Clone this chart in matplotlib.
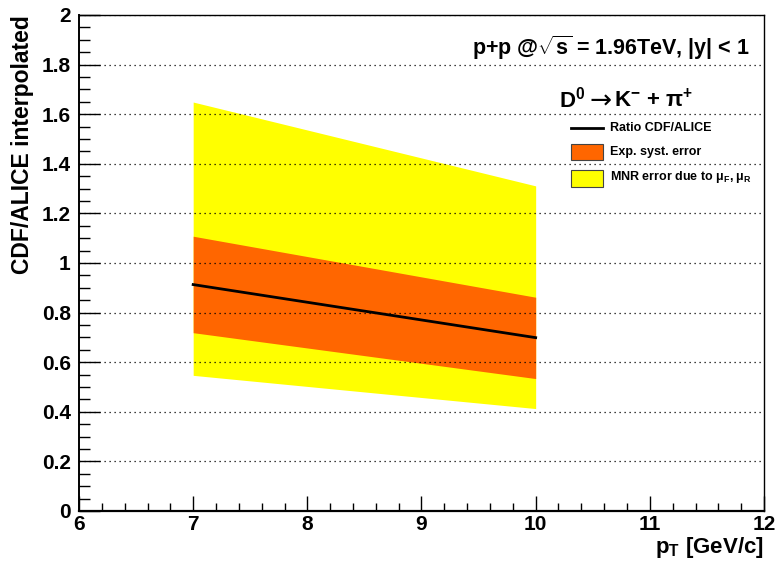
import matplotlib
matplotlib.use('Agg')
import matplotlib.pyplot as plt
from matplotlib.patches import Rectangle
from matplotlib.lines import Line2D
import numpy as np

plt.rcParams['font.family'] = ['Liberation Sans', 'DejaVu Sans']
plt.rcParams['font.weight'] = 'bold'
plt.rcParams['mathtext.fontset'] = 'custom'
plt.rcParams['mathtext.rm'] = 'Liberation Sans:bold'
plt.rcParams['mathtext.bf'] = 'Liberation Sans:bold'
plt.rcParams['mathtext.it'] = 'Liberation Sans:italic:bold'

# pT points and bands
pt = [7, 10]
ratio = [0.913, 0.699]
exp_hi = [1.108, 0.862]
exp_lo = [0.719, 0.534]
mnr_hi = [1.649, 1.311]
mnr_lo = [0.547, 0.413]

xticks = [6, 7, 8, 9, 10, 11, 12]
yticks = [0, 0.2, 0.4, 0.6, 0.8, 1, 1.2, 1.4, 1.6, 1.8, 2]
ylabels = ['0', '0.2', '0.4', '0.6', '0.8', '1', '1.2', '1.4', '1.6', '1.8', '2']

yellow = '#ffff00'
orange = '#ff6600'

fig = plt.figure(figsize=(7.79, 5.67), dpi=100)
ax = fig.add_axes([79/779, 1 - 511/567, 685/779, 496/567])

ax.fill_between(pt, mnr_lo, mnr_hi, color=yellow, linewidth=0, zorder=1)
ax.fill_between(pt, exp_lo, exp_hi, color=orange, linewidth=0, zorder=1.2)
ax.plot(pt, ratio, color='black', lw=2, zorder=1.5)

ax.set_xlim(6, 12)
ax.set_ylim(0, 2)
ax.set_xticks(xticks)
ax.set_xticks(np.arange(6, 12.01, 0.2), minor=True)
ax.set_yticks(yticks)
ax.set_yticks(np.arange(0, 2.01, 0.05), minor=True)
ax.set_xticklabels([str(v) for v in xticks], fontsize=15, fontweight='bold')
ax.set_yticklabels(ylabels, fontsize=15, fontweight='bold')

ax.tick_params(axis='both', which='both', direction='in', top=False, right=False,
               width=1)
ax.tick_params(axis='y', which='major', length=15, pad=6)
ax.tick_params(axis='y', which='minor', length=8)
ax.tick_params(axis='x', which='major', length=11, pad=3)
ax.tick_params(axis='x', which='minor', length=6)

ax.set_axisbelow(False)
ax.yaxis.grid(True, which='major', color='black', linestyle=(0, (1, 3)), linewidth=0.9)
for s in ax.spines.values():
    s.set_linewidth(1.0)
ax.spines['bottom'].set_linewidth(1.6)
ax.spines['left'].set_linewidth(1.4)

fig.text(23/779, 1 - 15/567, 'CDF/ALICE interpolated', rotation=90,
         ha='center', va='top', fontsize=16.5, fontweight='bold')
fig.text(764/779, 1 - 548/567, r'p$_\mathrm{T}$ [GeV/c]',
         ha='right', va='center', fontsize=16, fontweight='bold')

fig.text(750/779, 1 - 48/567, r'p+p @$\sqrt{\mathrm{s}}$ = 1.96TeV, |y| < 1',
         ha='right', va='center', fontsize=15.5, fontweight='bold')

# decay channel: D0 -> K- + pi+
fig.text(585/779, 1 - 100/567, r'D$^\mathbf{0}$', ha='right', va='center',
         fontsize=16, fontweight='bold')
fig.text(601/779, 1 - 102/567, '\u2192', ha='center', va='center',
         fontsize=19, fontweight='normal', family='DejaVu Sans')
fig.text(693/779, 1 - 100/567, r'K$^\mathbf{-}$ + π$^\mathbf{+}$', ha='right',
         va='center', fontsize=16, fontweight='bold')

# legend
lx0, lx1 = 571, 603
fig.add_artist(Line2D([lx0/779, lx1/779], [1 - 128/567, 1 - 128/567],
                      color='black', lw=2, transform=fig.transFigure))
fig.add_artist(Rectangle((lx0/779, 1 - 160/567), (lx1 - lx0)/779, 16/567,
                         facecolor=orange, edgecolor='#444444', lw=0.8,
                         transform=fig.transFigure))
fig.add_artist(Rectangle((lx0/779, 1 - 187/567), (lx1 - lx0)/779, 17/567,
                         facecolor=yellow, edgecolor='#444444', lw=0.8,
                         transform=fig.transFigure))
fig.text(610/779, 1 - 128/567, 'Ratio CDF/ALICE', ha='left', va='center',
         fontsize=9, fontweight='bold')
fig.text(610/779, 1 - 152/567, 'Exp. syst. error', ha='left', va='center',
         fontsize=9, fontweight='bold')
fig.text(610/779, 1 - 177/567, r'MNR error due to μ$_\mathrm{F}$, μ$_\mathrm{R}$',
         ha='left', va='center', fontsize=9, fontweight='bold')

fig.savefig('out.png', dpi=100)
